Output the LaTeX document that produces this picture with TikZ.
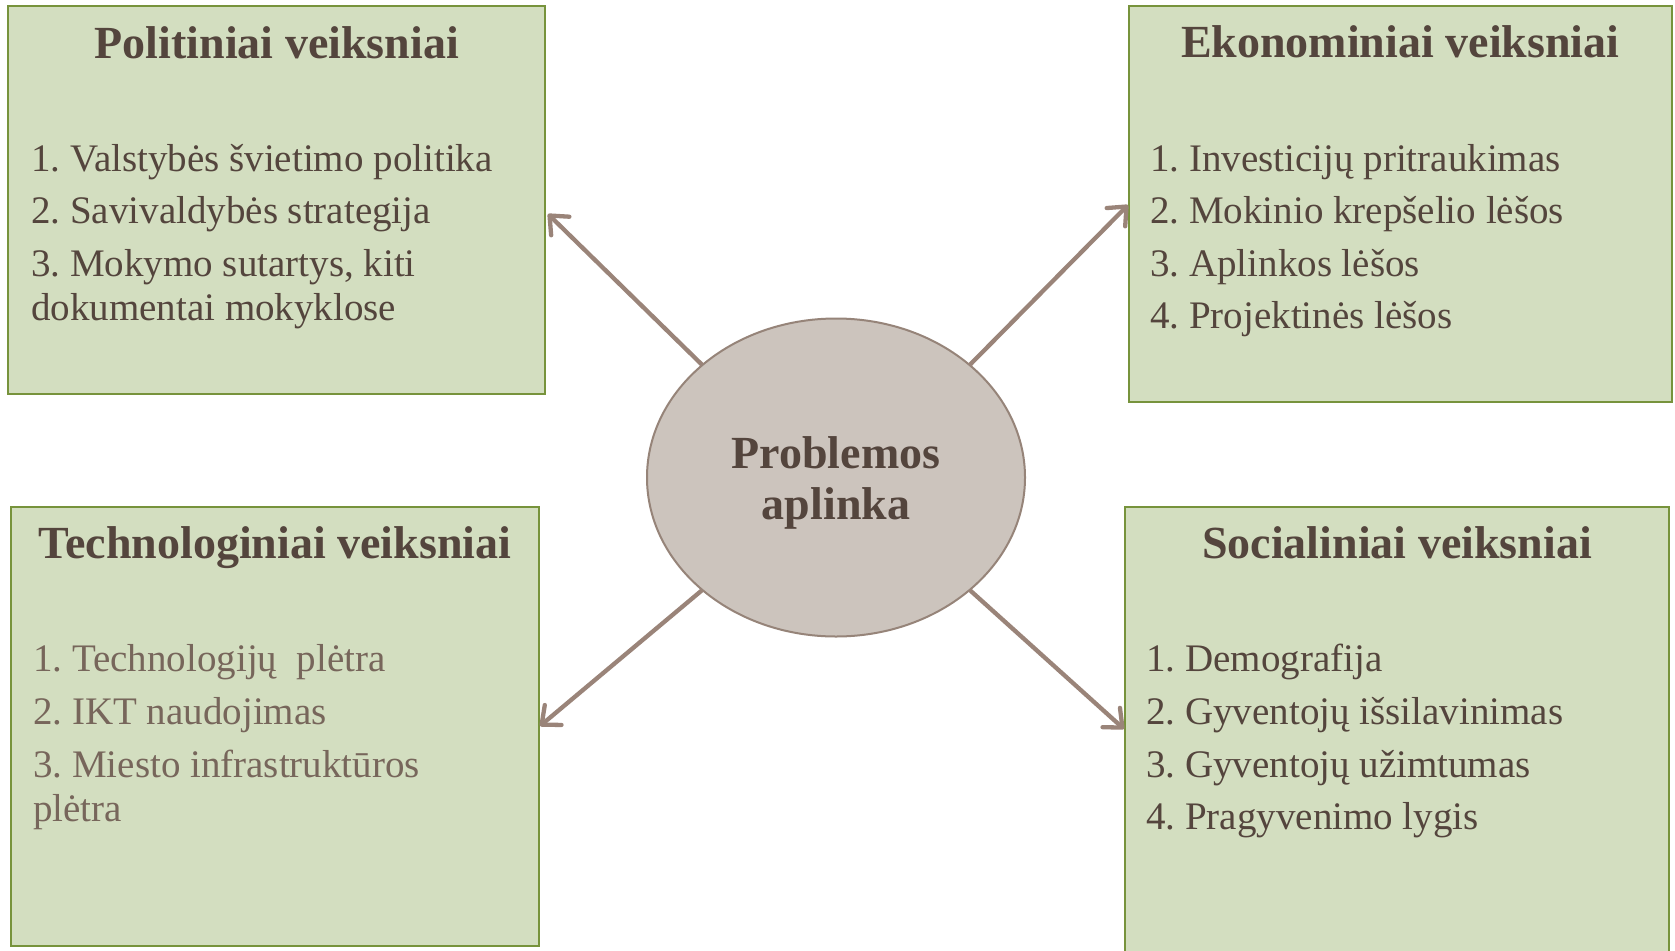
\documentclass[tikz,border=0pt]{standalone}
\usepackage{fontspec}
\setmainfont{Liberation Serif}
\usetikzlibrary{arrows.meta,shapes.geometric}
\definecolor{boxfill}{HTML}{D3DEC0}
\definecolor{boxdraw}{HTML}{77933C}
\definecolor{txtdark}{HTML}{54453D}
\definecolor{txtlight}{HTML}{77665B}
\definecolor{ellfill}{HTML}{CCC4BD}
\definecolor{elldraw}{HTML}{968479}
\definecolor{arrowc}{HTML}{9A8479}
\frenchspacing
\begin{document}
\begin{tikzpicture}[x=1bp,y=-1bp,
  box/.style={draw=boxdraw, fill=boxfill, line width=2bp, inner sep=0pt, outer sep=0pt},
  ttl/.style={anchor=base, font=\fontsize{46bp}{55bp}\selectfont\bfseries, text=txtdark, inner sep=0pt},
  itm/.style={anchor=base west, font=\fontsize{39bp}{47bp}\selectfont, text=txtdark, inner sep=0pt},
  itml/.style={itm, text=txtlight},
  ell/.style={ellipse, draw=elldraw, fill=ellfill, line width=2bp, inner sep=0pt, outer sep=0pt},
  arr/.style={draw=arrowc, line width=4.3bp, -{Straight Barb[length=15bp,width=26bp,round]}}
]
\useasboundingbox (0,0) rectangle (1675,950);
\fill[white] (0,0) rectangle (1675,950);

% boxes
\node[box, minimum width=536.5bp, minimum height=387bp] (P) at (276.75,200) {};
\node[box, minimum width=543.5bp, minimum height=395.5bp] (E) at (1400.25,204.25) {};
\node[box, minimum width=527bp, minimum height=439.5bp] (T) at (275,726.25) {};
\node[box, minimum width=544bp, minimum height=447bp] (S) at (1397,730) {};

% titles
\node[ttl] (Pt) at (276.75,58) {Politiniai veiksniai};
\node[ttl] (Et) at (1400.25,57) {Ekonominiai veiksniai};
\node[ttl] (Tt) at (275,558) {Technologiniai veiksniai};
\node[ttl] (St) at (1397,558) {Socialiniai veiksniai};

% Politiniai items
\node[itm] (p1) at (31,171) {1. Valstybės švietimo politika};
\node[itm] (p2) at (31,223) {2. Savivaldybės strategija};
\node[itm] (p3) at (31,276) {3. Mokymo sutartys, kiti};
\node[itm] (p4) at (31,320) {dokumentai mokyklose};

% Ekonominiai items
\node[itm] (e1) at (1150,171) {1. Investicijų pritraukimas};
\node[itm] (e2) at (1150,223) {2. Mokinio krepšelio lėšos};
\node[itm] (e3) at (1150,276.5) {3. Aplinkos lėšos};
\node[itm] (e4) at (1150,328) {4. Projektinės lėšos};

% Technologiniai items
\node[itml] (t1) at (33,671) {1. Technologijų\ \ plėtra};
\node[itml] (t2) at (33,724) {2. IKT naudojimas};
\node[itml] (t3) at (33,777) {3. Miesto infrastruktūros};
\node[itml] (t4) at (33,821) {plėtra};

% Socialiniai items
\node[itm] (s1) at (1146,671) {1. Demografija};
\node[itm] (s2) at (1146,724) {2. Gyventojų išsilavinimas};
\node[itm] (s3) at (1146,777) {3. Gyventojų užimtumas};
\node[itm] (s4) at (1146,829) {4. Pragyvenimo lygis};

% centre ellipse
\node[ell, minimum width=378bp, minimum height=318bp] (el) at (836,477.5) {};
\node[ttl] (c1) at (836,468) {Problemos};
\node[ttl] (c2) at (836,519) {aplinka};

% arrow tips
\coordinate (tP) at (548,214);
\coordinate (tE) at (1128,205);
\coordinate (tT) at (540,726);
\coordinate (tS) at (1124,729);

\draw[arr] (el.north west) -- (tP);
\draw[arr] (el.north east) -- (tE);
\draw[arr] (el.south west) -- (tT);
\draw[arr] (el.south east) -- (tS);
\end{tikzpicture}
\end{document}
